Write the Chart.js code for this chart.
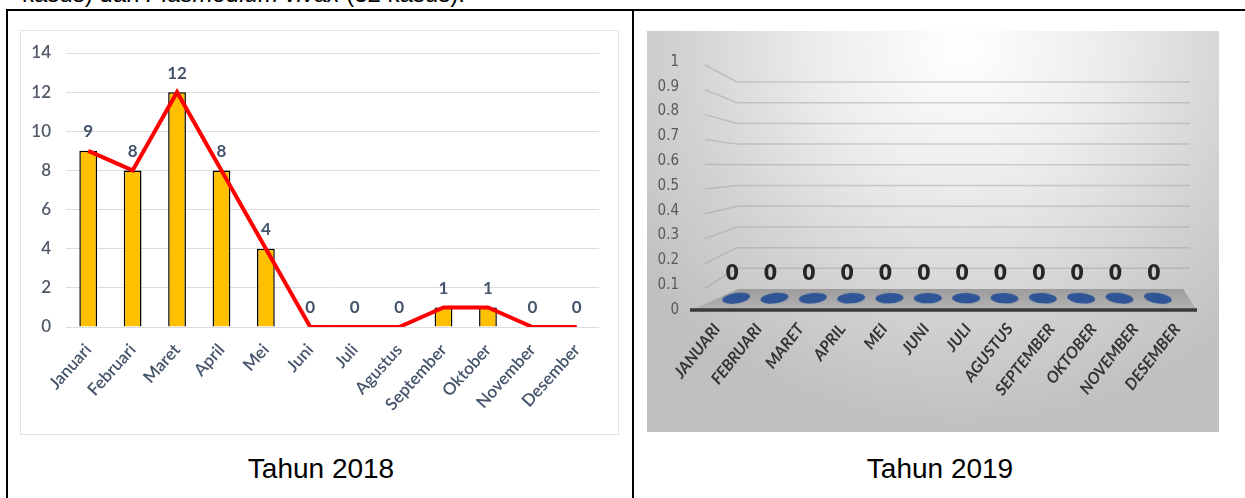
<!DOCTYPE html>
<html>
<head>
<meta charset="utf-8">
<script src="https://cdn.jsdelivr.net/npm/chart.js@4.4.1/dist/chart.umd.min.js"></script>
<style>
  html, body { margin: 0; padding: 0; background: #fff; }
  body { width: 1245px; height: 498px; position: relative; overflow: hidden; font-family: 'Liberation Sans', Arial, sans-serif; }
  .intro { position: absolute; left: 22px; top: -18px; font-size: 24px; line-height: 1; color: #000; white-space: nowrap; }
  .frame { position: absolute; left: 6px; top: 9px; width: 1250px; height: 500px; border-left: 2px solid #000; border-top: 2px solid #000; }
  .divider { position: absolute; left: 632px; top: 9px; width: 2px; height: 500px; background: #000; }
  .box2018 { position: absolute; left: 20px; top: 30px; width: 597px; height: 403px; border: 1px solid #e2e2e2; background: #fff; }
  .box2019 { position: absolute; left: 647px; top: 31px; width: 572px; height: 401px;
    background: radial-gradient(ellipse 70% 95% at 55% 4%, #ffffff 0%, #ededed 35%, #d2d2d2 70%, #c0c0c0 100%); }
  canvas { position: absolute; left: 0; top: 0; }
  .caption { position: absolute; top: 453px; font-size: 28px; color: #000; text-align: center; width: 300px; }
</style>
</head>
<body>
<div class="intro">kasus) dan <i>Plasmodium vivax</i> (32 kasus).</div>
<div class="frame"></div>
<div class="divider"></div>
<div class="box2018"><canvas id="chart2018" width="597" height="403"></canvas></div>
<div class="box2019"><canvas id="chart2019" width="572" height="401"></canvas></div>
<div class="caption" style="left:171px">Tahun 2018</div>
<div class="caption" style="left:790px">Tahun 2019</div>

<script>
// 2018 data
const months2018 = ['Januari', 'Februari', 'Maret', 'April', 'Mei', 'Juni', 'Juli', 'Agustus', 'September', 'Oktober', 'November', 'Desember'];
const cases2018 = [9, 8, 12, 8, 4, 0, 0, 0, 1, 1, 0, 0];

// 2019 data
const months2019 = ['JANUARI', 'FEBRUARI', 'MARET', 'APRIL', 'MEI', 'JUNI', 'JULI', 'AGUSTUS', 'SEPTEMBER', 'OKTOBER', 'NOVEMBER', 'DESEMBER'];
const cases2019 = [0, 0, 0, 0, 0, 0, 0, 0, 0, 0, 0, 0];
const yTicks2019 = ['0', '0.1', '0.2', '0.3', '0.4', '0.5', '0.6', '0.7', '0.8', '0.9', '1'];

Chart.defaults.animation = false;
Chart.defaults.plugins.legend.display = false;
Chart.defaults.plugins.tooltip.enabled = false;

// value labels above the line points
const labels2018 = {
  id: 'labels2018',
  afterDatasetsDraw(chart) {
    const ctx = chart.ctx;
    const meta = chart.getDatasetMeta(0);
    ctx.save();
    ctx.font = 'bold 17px Lato';
    ctx.fillStyle = '#44546A';
    ctx.textAlign = 'center';
    ctx.textBaseline = 'middle';
    meta.data.forEach((p, i) => {
      ctx.fillText(cases2018[i], p.x, p.y - 19);
    });
    ctx.restore();
  }
};

new Chart(document.getElementById('chart2018'), {
  type: 'bar',
  data: {
    labels: months2018,
    datasets: [
      {
        type: 'line',
        data: cases2018,
        borderColor: '#FF0000',
        borderWidth: 4,
        pointRadius: 0,
        tension: 0,
        order: 0
      },
      {
        type: 'bar',
        data: cases2018,
        backgroundColor: '#FFC000',
        borderColor: '#000000',
        borderWidth: 1.5,
        barPercentage: 0.4,
        categoryPercentage: 1,
        order: 1
      }
    ]
  },
  options: {
    responsive: false,
    layout: { padding: { left: 0, right: 19, top: 22, bottom: 0 } },
    scales: {
      x: {
        grid: { display: false },
        border: { display: false },
        ticks: {
          maxRotation: 48,
          minRotation: 48,
          padding: 5,
          color: '#44546A',
          font: { family: 'Lato', size: 17, weight: '600' }
        },
        afterFit(scale) { scale.height = 107; }
      },
      y: {
        min: 0,
        max: 14,
        ticks: {
          stepSize: 2,
          padding: 15,
          color: '#505a68',
          font: { family: 'Lato', size: 17, weight: '600' }
        },
        grid: { color: '#dcdcdc', lineWidth: 1, drawTicks: false },
        border: { display: false },
        afterFit(scale) {
          scale.width = 45;
          scale.paddingTop = 0;
          scale.paddingBottom = 0;
        }
      }
    }
  },
  plugins: [labels2018]
});

// blue disc used as the (flat) column top
const disc = document.createElement('canvas');
disc.width = 32;
disc.height = 14;
(function () {
  const c = disc.getContext('2d');
  c.fillStyle = '#2F5597';
  c.beginPath();
  c.ellipse(16, 7, 14, 5.2, 0, 0, Math.PI * 2);
  c.fill();
})();

// 3d-style walls, floor and value labels
const walls2019 = {
  id: 'walls2019',
  beforeDatasetsDraw(chart) {
    const ctx = chart.ctx;
    const y = chart.scales.y;
    const area = chart.chartArea;
    const k = 0.835;
    const backTop = y.top + 20;
    const backY = v => backTop + (y.getPixelForValue(v) - y.top) * k;
    const sideX = area.left - 12;
    const backLeft = area.left + 20;
    const backRight = area.right + 13;
    ctx.save();
    ctx.strokeStyle = 'rgba(150,150,150,0.4)';
    ctx.lineWidth = 1.5;
    y.ticks.forEach(t => {
      if (t.value === 0) return;
      const yf = y.getPixelForValue(t.value) + 3;
      const yb = backY(t.value);
      ctx.beginPath();
      ctx.moveTo(sideX, yf);
      ctx.lineTo(backLeft, yb);
      ctx.lineTo(backRight, yb);
      ctx.stroke();
    });
    // floor
    const y0 = y.getPixelForValue(0);
    const yb0 = backY(0);
    const grad = ctx.createLinearGradient(0, yb0, 0, y0);
    grad.addColorStop(0, '#9c9c9c');
    grad.addColorStop(1, '#b4b4b4');
    ctx.fillStyle = grad;
    ctx.beginPath();
    ctx.moveTo(backLeft + 1, yb0);
    ctx.lineTo(backRight - 7, yb0);
    ctx.lineTo(area.right + 20, y0);
    ctx.lineTo(area.left - 25, y0);
    ctx.closePath();
    ctx.fill();
    // front axis line
    ctx.strokeStyle = '#3a3a3a';
    ctx.lineWidth = 3.5;
    ctx.beginPath();
    ctx.moveTo(area.left - 27, y0);
    ctx.lineTo(area.right + 20, y0);
    ctx.stroke();
    ctx.restore();
  },
  afterDatasetsDraw(chart) {
    const ctx = chart.ctx;
    const meta = chart.getDatasetMeta(0);
    ctx.save();
    ctx.font = 'bold 22px "DejaVu Sans Condensed", Lato, sans-serif';
    ctx.fillStyle = '#262626';
    ctx.textAlign = 'center';
    ctx.textBaseline = 'middle';
    meta.data.forEach((p, i) => {
      ctx.fillText(cases2019[i], p.x - 4, p.y - 24);
    });
    ctx.restore();
  }
};

new Chart(document.getElementById('chart2019'), {
  type: 'line',
  data: {
    labels: months2019,
    datasets: [
      {
        data: cases2019,
        xAxisID: 'xPts',
        yAxisID: 'yMid',
        showLine: false,
        pointStyle: disc,
        pointRadius: 6,
        pointRotation: ctx => (ctx.dataIndex - 5.5) * 1.6
      }
    ]
  },
  options: {
    responsive: false,
    layout: { padding: { left: 0, right: 42, top: 31, bottom: 0 } },
    scales: {
      x: {
        type: 'category',
        offset: false,
        grid: { display: false },
        border: { display: false },
        ticks: {
          autoSkip: false,
          maxRotation: 52,
          minRotation: 52,
          padding: 2,
          color: '#333333',
          font: { family: 'Lato', size: 16, weight: 'bold', style: 'italic' }
        },
        afterFit(scale) { scale.height = 122; }
      },
      xPts: {
        type: 'category',
        offset: true,
        display: false
      },
      y: {
        type: 'linear',
        min: 0,
        max: 1,
        ticks: {
          stepSize: 0.1,
          padding: 30,
          color: '#595959',
          font: { family: '"DejaVu Sans Condensed", Lato, sans-serif', size: 15 },
          callback: (v, i) => yTicks2019[i]
        },
        grid: { display: false },
        border: { display: false },
        afterFit(scale) {
          scale.width = 70;
          scale.paddingTop = 0;
          scale.paddingBottom = 0;
        }
      },
      yMid: {
        type: 'linear',
        min: -0.05,
        max: 1,
        display: false
      }
    }
  },
  plugins: [walls2019]
});
</script>
</body>
</html>
